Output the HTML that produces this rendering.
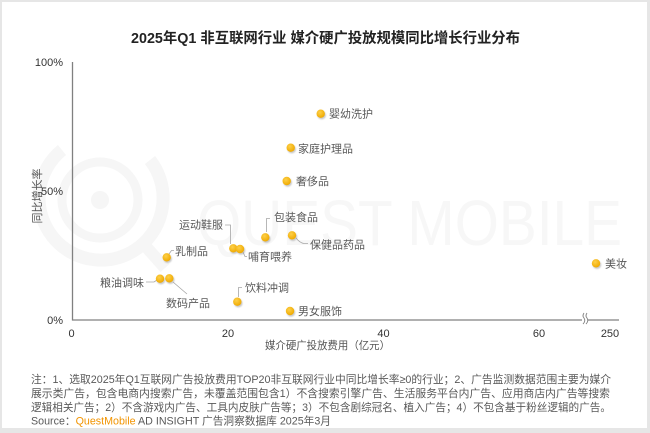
<!DOCTYPE html>
<html><head><meta charset="utf-8"><style>
html,body{margin:0;padding:0;background:#fff;}
svg{display:block;}
text{font-family:"Liberation Sans","Noto Sans CJK SC",sans-serif;}
</style></head><body>
<svg width="650" height="433" viewBox="0 0 650 433" xmlns="http://www.w3.org/2000/svg">
<defs>
<filter id="sh" x="-50%" y="-50%" width="200%" height="200%"><feGaussianBlur stdDeviation="0.8"/></filter>
<radialGradient id="dg" cx="40%" cy="35%" r="65%"><stop offset="0" stop-color="#fdd04a"/><stop offset="1" stop-color="#f0aa00"/></radialGradient>
</defs>
<rect x="0" y="0" width="650" height="433" fill="#e6e6e6"/>
<rect x="2" y="2" width="645" height="426" fill="#ffffff"/>

<!-- watermark -->
<g fill="none" stroke="#f6f6f6">
<path d="M62,150 A62,62 0 1 0 150,160" stroke-width="13"/>
<circle cx="100" cy="200" r="38" stroke-width="9"/>
<line x1="140" y1="240" x2="165" y2="268" stroke-width="12"/>
</g>
<circle cx="100" cy="200" r="9" fill="#f6f6f6"/>
<text x="197" y="245" font-size="64" fill="#f7f7f7" textLength="425" lengthAdjust="spacingAndGlyphs">QUEST MOBILE</text>

<!-- title -->
<text x="131" y="43" font-size="14.5" font-weight="bold" fill="#222" textLength="389" lengthAdjust="spacingAndGlyphs">2025年Q1 非互联网行业 媒介硬广投放规模同比增长行业分布</text>

<!-- axes -->
<line x1="72.5" y1="62" x2="72.5" y2="320.5" stroke="#808080" stroke-width="1.3"/>
<line x1="72" y1="320" x2="619" y2="320" stroke="#808080" stroke-width="1.3"/>
<rect x="582" y="316" width="6" height="8" fill="#fff"/>
<path d="M584,313 q-2,3 0,5 q2,3 -1,6" fill="none" stroke="#808080" stroke-width="0.9"/>
<path d="M587,313 q-2,3 0,5 q2,3 -1,6" fill="none" stroke="#808080" stroke-width="0.9"/>

<!-- y tick labels -->
<g font-size="11" fill="#333" text-anchor="end">
<text x="63" y="66">100%</text>
<text x="63" y="195">50%</text>
<text x="63" y="324">0%</text>
</g>
<!-- x tick labels -->
<g font-size="11" fill="#333" text-anchor="middle">
<text x="71.5" y="337">0</text>
<text x="228" y="337">20</text>
<text x="383.5" y="337">40</text>
<text x="539" y="337">60</text>
<text x="610" y="337">250</text>
</g>
<!-- axis titles -->
<text x="265" y="349" font-size="10.6" fill="#555" textLength="125" lengthAdjust="spacingAndGlyphs">媒介硬广投放费用（亿元）</text>
<text transform="translate(41,196) rotate(-90)" font-size="11" fill="#555" text-anchor="middle">同比增长率</text>

<!-- leader lines -->
<g fill="none" stroke="#a6a6a6" stroke-width="0.8">
<path d="M266.5,232 V218.5 H270"/>
<path d="M225,225 H230.5 V244"/>
<path d="M243,252 L245,256.5 H247"/>
<path d="M169,254 L171.5,250.5 H174"/>
<path d="M146,282 H154 L157,280"/>
<path d="M173,282 L187,294"/>
<path d="M238.5,297 V287.5 H242"/>
<path d="M296,238 Q300,243 304,243.5 H308"/>
</g>

<!-- dots -->
<g>
<g filter="url(#sh)" fill="#9a9a9a" opacity="0.55">
<circle cx="321.7" cy="115.2" r="4.2"/>
<circle cx="291.7" cy="149.2" r="4.2"/>
<circle cx="287.7" cy="182.5" r="4.2"/>
<circle cx="266.3" cy="238.8" r="4.2"/>
<circle cx="293" cy="236.8" r="4.2"/>
<circle cx="234.3" cy="249.8" r="4.2"/>
<circle cx="241" cy="250.5" r="4.2"/>
<circle cx="167.7" cy="258.8" r="4.2"/>
<circle cx="161" cy="280.2" r="4.2"/>
<circle cx="170.3" cy="279.8" r="4.2"/>
<circle cx="238.3" cy="303.2" r="4.2"/>
<circle cx="291" cy="312.5" r="4.2"/>
<circle cx="597" cy="264.8" r="4.2"/>
</g>
<g fill="url(#dg)">
<circle cx="320.7" cy="113.7" r="4.2"/>
<circle cx="290.7" cy="147.7" r="4.2"/>
<circle cx="286.7" cy="181" r="4.2"/>
<circle cx="265.3" cy="237.3" r="4.2"/>
<circle cx="292" cy="235.3" r="4.2"/>
<circle cx="233.3" cy="248.3" r="4.2"/>
<circle cx="240" cy="249" r="4.2"/>
<circle cx="166.7" cy="257.3" r="4.2"/>
<circle cx="160" cy="278.7" r="4.2"/>
<circle cx="169.3" cy="278.3" r="4.2"/>
<circle cx="237.3" cy="301.7" r="4.2"/>
<circle cx="290" cy="311" r="4.2"/>
<circle cx="596" cy="263.3" r="4.2"/>
</g>
</g>

<!-- data labels -->
<g font-size="11" fill="#595959">
<text x="329" y="117.5">婴幼洗护</text>
<text x="298" y="152.5">家庭护理品</text>
<text x="296" y="185">奢侈品</text>
<text x="274" y="221">包装食品</text>
<text x="310" y="248.5">保健品药品</text>
<text x="179" y="228.5">运动鞋服</text>
<text x="248" y="260.7">哺育喂养</text>
<text x="175" y="255">乳制品</text>
<text x="100" y="286.7">粮油调味</text>
<text x="166" y="307">数码产品</text>
<text x="245" y="291.3">饮料冲调</text>
<text x="298" y="315">男女服饰</text>
<text x="605" y="267.5">美妆</text>
</g>

<!-- footnote -->
<g font-size="11" fill="#595959">
<text x="31" y="383" textLength="580" lengthAdjust="spacingAndGlyphs">注：1、选取2025年Q1互联网广告投放费用TOP20非互联网行业中同比增长率≥0的行业；2、广告监测数据范围主要为媒介</text>
<text x="31" y="397" textLength="579" lengthAdjust="spacingAndGlyphs">展示类广告，包含电商内搜索广告，未覆盖范围包含1）不含搜索引擎广告、生活服务平台内广告、应用商店内广告等搜索</text>
<text x="31" y="411" textLength="580" lengthAdjust="spacingAndGlyphs">逻辑相关广告；2）不含游戏内广告、工具内皮肤广告等；3）不包含剧综冠名、植入广告；4）不包含基于粉丝逻辑的广告。</text>
<text x="31" y="424.5" textLength="300" lengthAdjust="spacingAndGlyphs">Source：<tspan fill="#f29400">QuestMobile</tspan> AD INSIGHT 广告洞察数据库 2025年3月</text>
</g>
</svg>
</body></html>
